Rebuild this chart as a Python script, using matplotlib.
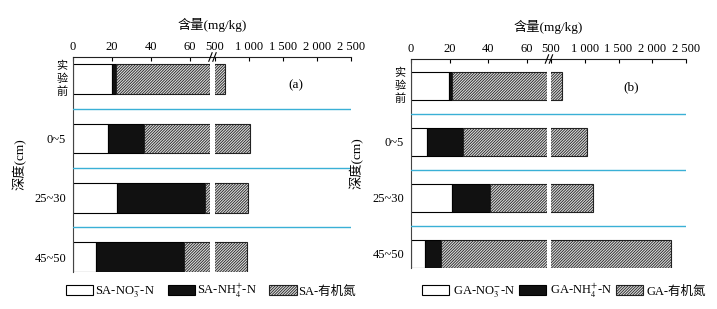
import numpy as np
import matplotlib.pyplot as plt
from matplotlib.patches import Patch

plt.rcParams['font.family'] = ['Liberation Serif', 'Noto Sans CJK SC']
plt.rcParams['mathtext.fontset'] = 'stix'
plt.rcParams['hatch.linewidth'] = 0.6

depths = ['实验前', '0~5', '25~30', '45~50']
xticks = [0, 20, 40, 60, 500, 1000, 1500, 2000, 2500]
xticklabels = ['0', '20', '40', '60', '500', '1 000', '1 500', '2 000', '2 500']

# mg/kg
sa_no3 = [19.8, 18.1, 22.7, 11.8]
sa_nh4 = [2.1, 18.5, 45.0, 45.3]
sa_org = [635, 988, 922, 924]

ga_no3 = [19.5, 8.4, 21.4, 7.4]
ga_nh4 = [1.7, 18.5, 19.7, 8.3]
ga_org = [645, 1013, 1087, 2268]

# broken axis: 0-70.5 linear, gap, then 500-2500 compressed
L, B, s = 70.5, 72.6, 0.035

def fwd(v):
    v = np.asarray(v, dtype=float)
    return np.where(v <= L, v,
                    np.where(v < 500, L + (v - L) * (B - L) / (500 - L),
                             B + (v - 500) * s))

def inv(u):
    u = np.asarray(u, dtype=float)
    return np.where(u <= L, u,
                    np.where(u < B, L + (u - L) * (500 - L) / (B - L),
                             500 + (u - B) / s))

HATCH = '////////////'
fs = 9.5

fig = plt.figure(figsize=(7.17, 3.09), dpi=100)
ax1 = fig.add_axes([73/717, 1-272/309, 278/717, 215/309])
ax2 = fig.add_axes([411/717, 1-268/309, 275/717, 209/309])

def draw(ax, no3, nh4, org, ytop, tag, prefix, ylab_x):
    ax.set_xscale('function', functions=(fwd, inv))
    y = np.arange(len(depths))
    no3 = np.array(no3); nh4 = np.array(nh4); org = np.array(org)
    ax.barh(y, no3, height=0.5, color='white', edgecolor='black', lw=0.8, zorder=2)
    ax.barh(y, nh4, left=no3, height=0.5, color='#111111', edgecolor='black', lw=0.8, zorder=2)
    ax.barh(y, org, left=no3+nh4, height=0.5, color='#dcdcdc', edgecolor='#222222',
            hatch=HATCH, lw=0.8, zorder=2)
    ax.axvspan(L, 500, color='white', zorder=2.5, lw=0)
    for yy in [0.5, 1.5, 2.5]:
        ax.axhline(yy, color='#3ab0d6', lw=1.0, zorder=3)
    ax.set_xlim(0, 2500)
    ax.set_ylim(3.25, ytop)
    ax.xaxis.tick_top()
    ax.set_xticks(xticks)
    ax.set_xticklabels(xticklabels)
    ax.tick_params(axis='x', direction='in', length=3, pad=3, labelsize=9)
    ax.set_yticks(y)
    ax.set_yticklabels([''] + depths[1:])
    ax.tick_params(axis='y', length=0, pad=5, labelsize=9)
    # vertical label for the first row, one character per line
    step = 12.5 * (3.25 - ytop) / ax.bbox.height
    for i, ch in enumerate(depths[0]):
        ax.text(-11 / ax.bbox.width, (i - 1) * step, ch,
                transform=ax.get_yaxis_transform(), ha='center', va='center',
                fontsize=8)
    for sp in ['right', 'bottom']:
        ax.spines[sp].set_visible(False)
    ax.spines['left'].set_color('#444444')
    ax.spines['top'].set_color('#222222')
    ax.set_ylabel('深度(cm)', fontsize=fs)
    ax.yaxis.set_label_coords(ylab_x, 0.5)
    ax.text(0.5, 1 + 32/ax.bbox.height, '含量(mg/kg)', transform=ax.transAxes,
            ha='center', va='center', fontsize=fs)
    ax.text(0.8, 1 - 28/ax.bbox.height, tag, transform=ax.transAxes,
            ha='center', va='center', fontsize=fs)
    # break marks
    xb = float(fwd(L + 0.5)) / float(fwd(2500))
    xb2 = float(fwd(495)) / float(fwd(2500))
    for xx in [xb, xb2]:
        ax.plot([xx - 0.006, xx + 0.006], [1 - 0.02, 1 + 0.02], transform=ax.transAxes,
                color='black', lw=0.8, clip_on=False, zorder=5)
    handles = [Patch(facecolor='white', edgecolor='black', lw=0.8),
               Patch(facecolor='#111111', edgecolor='black', lw=0.8),
               Patch(facecolor='#dcdcdc', edgecolor='#222222', hatch=HATCH, lw=0.8)]
    labels = [prefix + '-NO$_3^{-}$-N', prefix + '-NH$_4^{+}$-N', prefix + '-有机氮']
    return handles, labels

h, l = draw(ax1, sa_no3, sa_nh4, sa_org, -0.37, '(a)', 'SA', -0.165)
fig.legend(h, l, loc='center', bbox_to_anchor=(211/717, 1-291/309), ncol=3, frameon=False,
           fontsize=9, handlelength=2.2, handleheight=0.8, handletextpad=0.15,
           columnspacing=1.0, borderpad=0)
h, l = draw(ax2, ga_no3, ga_nh4, ga_org, -0.48, '(b)', 'GA', -0.17)
fig.legend(h, l, loc='center', bbox_to_anchor=(564/717, 1-291/309), ncol=3, frameon=False,
           fontsize=9, handlelength=2.2, handleheight=0.8, handletextpad=0.3,
           columnspacing=0.3, borderpad=0)

fig.savefig('out.png', dpi=100)
